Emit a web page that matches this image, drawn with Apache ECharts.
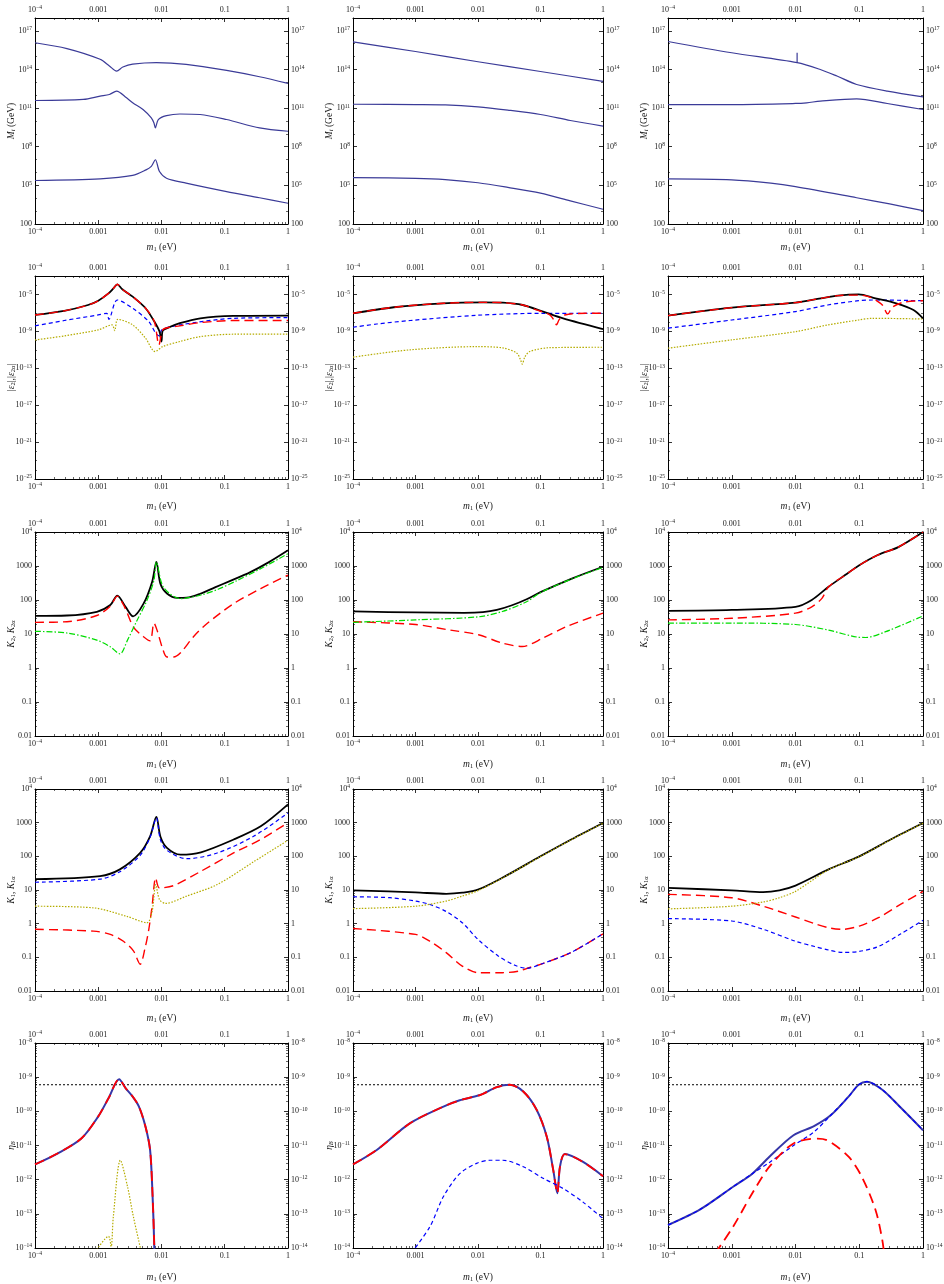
<!DOCTYPE html>
<html><head><meta charset="utf-8">
<script src="https://cdn.jsdelivr.net/npm/echarts@6/dist/echarts.min.js"></script>
<style>html,body{margin:0;padding:0;background:#fff}#c{width:944px;height:1284px}</style>
</head><body><div id="c"></div>
<script>
// ---------------- tick values / labels ----------------
const X_TICKS = [1e-4, 1e-3, 1e-2, 1e-1, 1];
const X_TICK_LABELS = ['10^-4', '0.001', '0.01', '0.1', '1'];
const Y1_TICKS = [1e2, 1e5, 1e8, 1e11, 1e14, 1e17];
const Y1_TICK_LABELS = ['100', '10^5', '10^8', '10^11', '10^14', '10^17'];
const Y2_TICKS = [1e-25, 1e-21, 1e-17, 1e-13, 1e-9, 1e-5];
const Y2_TICK_LABELS = ['10^-25', '10^-21', '10^-17', '10^-13', '10^-9', '10^-5'];
const Y3_TICKS = [0.01, 0.1, 1, 10, 100, 1000, 1e4];
const Y3_TICK_LABELS = ['0.01', '0.1', '1', '10', '100', '1000', '10^4'];
const Y5_TICKS = [1e-14, 1e-13, 1e-12, 1e-11, 1e-10, 1e-9, 1e-8];
const Y5_TICK_LABELS = ['10^-14', '10^-13', '10^-12', '10^-11', '10^-10', '10^-9', '10^-8'];

// ---------------- row 1 : M_i (GeV) ----------------
const c1_M3 = [[1e-4,1.2e16],[3.2e-4,4.2e15],[1.07e-3,6.2e14],[1.5e-3,1.9e14],[1.95e-3,7.6e13],[2.45e-3,1.55e14],[3.5e-3,2.6e14],[8.3e-3,3.4e14],[0.0245,2.5e14],[0.107,8.5e13],[0.355,2.75e13],[1,8.3e12]];
const c1_M2 = [[1e-4,3.9e11],[5.8e-4,4.7e11],[1.07e-3,8.5e11],[1.5e-3,1.15e12],[1.95e-3,2.1e12],[2.8e-3,6.3e11],[3.5e-3,2.6e11],[5.1e-3,7.8e10],[6.9e-3,1.74e10],[7.6e-3,7e9],[8.0e-3,2.9e9],[8.9e-3,1.3e10],[0.012,2.6e10],[0.0195,3.5e10],[0.0407,3.2e10],[0.107,1.3e10],[0.355,2.9e9],[1,1.6e9]];
const c1_M1 = [[1e-4,2.4e5],[1.07e-3,3.2e5],[3.5e-3,5.9e5],[5.7e-3,1.6e6],[6.9e-3,3e6],[8.0e-3,9.8e6],[9.3e-3,1.2e6],[0.012,3.6e5],[0.0245,1.5e5],[0.107,3.3e4],[0.355,1.1e4],[1,4.1e3]];
const c2_M3 = [[1e-4,1.4e16],[1e-3,2.5e15],[0.01,4e14],[0.1,7e13],[1,1.2e13]];
const c2_M2 = [[1e-4,2e11],[1e-3,1.9e11],[3e-3,1.8e11],[0.01,1.26e11],[0.03,7e10],[0.1,3.2e10],[0.3,1.1e10],[1,4e9]];
const c2_M1 = [[1e-4,4e5],[1e-3,3.5e5],[3e-3,2.8e5],[0.01,1.6e5],[0.03,7e4],[0.1,2.5e4],[0.3,6.3e3],[1,1.4e3]];
const c3_M3 = [[1e-4,1.5e16],[1e-3,2e15],[0.0106,3.4e14],[0.0245,1e14],[0.0447,3.1e13],[0.091,6.9e12],[0.275,2.1e12],[1,7.6e11]];
const c3_M3_spike = [[0.0106,3.4e14],[0.0106,2e15]];
const c3_M2 = [[1e-4,1.9e11],[1e-3,1.9e11],[0.01,2.3e11],[0.015,2.6e11],[0.0245,3.5e11],[0.091,5.2e11],[0.275,2.3e11],[1,7.8e10]];
const c3_M1 = [[1e-4,3.2e5],[1e-3,2.7e5],[4.1e-3,1.5e5],[0.01,8.1e4],[0.091,1.1e4],[0.3,3.6e3],[1,1.1e3]];

// ---------------- row 2 : |eps_2|, |eps_2alpha| ----------------
const e1_tot = [[1e-4,6e-8],[2.9e-4,1.66e-7],[6.9e-4,7.2e-7],[1e-3,2.1e-6],[1.45e-3,1.3e-5],[1.74e-3,4.6e-5],[2.0e-3,1.26e-4],[2.4e-3,3.6e-5],[3.5e-3,5.8e-6],[5.6e-3,3.2e-7],[7.7e-3,1.15e-8],[9.3e-3,9.5e-10],[0.01,7.9e-11],[0.0104,1.1e-9],[0.0118,2e-9],[0.0195,7.6e-9],[0.041,2.6e-8],[0.138,4.7e-8],[1,5.1e-8]];
const e1_red = [[1e-4,6e-8],[2.9e-4,1.66e-7],[6.9e-4,7.2e-7],[1e-3,2.1e-6],[1.45e-3,1.3e-5],[1.74e-3,4.6e-5],[2.0e-3,1.26e-4],[2.4e-3,3.6e-5],[3.5e-3,5.8e-6],[5.6e-3,3.2e-7],[7.7e-3,1.15e-8],[9.1e-3,3.4e-11],[0.0105,1.5e-9],[0.0135,2.8e-9],[0.0195,3.9e-9],[0.041,8.9e-9],[0.138,1.5e-8],[1,1.5e-8]];
const e1_blue = [[1e-4,3.9e-9],[2.9e-4,1.5e-8],[1e-3,6e-8],[1.36e-3,9e-8],[1.47e-3,2e-8],[2e-3,2.5e-6],[3.5e-3,3.2e-7],[6.3e-3,1.15e-8],[8.1e-3,6.3e-10],[9.3e-3,3.2e-10],[0.0101,1.45e-9],[0.0195,5e-9],[0.138,2.6e-8],[1,3.1e-8]];
const e1_olive = [[1e-4,1.17e-10],[2.9e-4,3.2e-10],[1e-3,1.45e-9],[1.65e-3,5e-9],[1.82e-3,1.2e-9],[2.04e-3,2e-8],[3.5e-3,5e-9],[5.6e-3,1.8e-10],[7.9e-3,6.5e-12],[0.0104,2.2e-11],[0.0195,8e-11],[0.041,2.7e-10],[0.138,4.9e-10],[1,4.9e-10]];
const e2_tot = [[1e-4,9.1e-8],[4.5e-4,4.1e-7],[2.8e-3,1.1e-6],[0.0122,1.4e-6],[0.025,1.3e-6],[0.052,7.2e-7],[0.11,1.4e-7],[0.23,2.6e-8],[1,1.8e-9]];
const e2_red = [[1e-4,9.1e-8],[4.5e-4,4.1e-7],[2.8e-3,1.1e-6],[0.0122,1.4e-6],[0.025,1.3e-6],[0.052,7.2e-7],[0.087,2.1e-7],[0.141,6e-8],[0.17,1.15e-8],[0.18,5e-9],[0.2,2e-8],[0.245,6e-8],[0.54,9.1e-8],[1,9.1e-8]];
const e2_blue = [[1e-4,2.8e-9],[2.4e-4,6.3e-9],[8.2e-4,1.5e-8],[9.5e-3,5.5e-8],[0.11,9.1e-8],[1,9.1e-8]];
const e2_olive = [[1e-4,1.6e-12],[8.2e-4,1e-11],[9.5e-3,2.2e-11],[0.025,1.6e-11],[0.042,4.3e-12],[0.048,8e-13],[0.051,2.8e-13],[0.056,1.6e-12],[0.067,6.5e-12],[0.141,1.7e-11],[1,1.9e-11]];
const e3_tot = [[1e-4,5.1e-8],[1e-3,3.7e-7],[0.01,1.3e-6],[0.025,3.8e-6],[0.046,7.4e-6],[0.098,1e-5],[0.18,3.8e-6],[0.38,1.1e-6],[0.71,2.1e-7],[1,2.6e-8]];
const e3_red = [[1e-4,5.1e-8],[1e-3,3.7e-7],[0.01,1.3e-6],[0.025,3.8e-6],[0.046,7.4e-6],[0.098,8.5e-6],[0.14,5.8e-6],[0.18,2.5e-6],[0.23,7.2e-7],[0.28,7.8e-8],[0.33,4.1e-7],[0.49,1.4e-6],[1,2.1e-6]];
const e3_blue = [[1e-4,2.2e-9],[1e-3,1.7e-8],[0.01,1.4e-7],[0.032,7.2e-7],[0.098,2.1e-6],[0.16,2.5e-6],[1,2.1e-6]];
const e3_olive = [[1e-4,1.5e-11],[1e-3,1.2e-10],[0.01,9.3e-10],[0.032,5e-9],[0.098,1.7e-8],[0.16,2.6e-8],[1,2.2e-8]];

// ---------------- row 3 : K_2, K_2alpha ----------------
const k2a_tot = [[1e-4,34],[3.2e-4,35],[9.5e-4,45],[1.55e-3,71],[2.0e-3,135],[2.7e-3,63],[3.55e-3,33],[5.2e-3,78],[7.1e-3,340],[8.3e-3,1320],[9.6e-3,300],[0.0122,155],[0.0178,115],[0.025,117],[0.04,150],[0.07,235],[0.12,360],[0.25,650],[0.5,1300],[1,2900]];
const k2a_red = [[1e-4,22],[3.2e-4,23],[9.5e-4,35],[1.55e-3,66],[2.0e-3,130],[2.6e-3,63],[3.6e-3,16],[5.2e-3,8.3],[6.6e-3,6.3],[7.6e-3,21],[8.5e-3,13],[0.0102,4.2],[0.0122,2.1],[0.0155,2.1],[0.02,2.8],[0.032,8.3],[0.052,20],[0.138,78],[0.37,215],[1,540]];
const k2a_green = [[1e-4,12],[3.2e-4,10.7],[9.5e-4,6.6],[1.55e-3,4.2],[2.2e-3,2.6],[2.9e-3,6.6],[4.1e-3,25],[5.9e-3,98],[7.6e-3,380],[8.3e-3,1320],[0.0107,240],[0.02,110],[0.042,140],[0.08,210],[0.15,360],[0.4,900],[1,2300]];
const k2b_tot = [[1e-4,46],[1e-3,43],[0.006,42],[0.012,44],[0.02,51],[0.035,70],[0.06,105],[0.1,170],[0.31,420],[1,950]];
const k2b_green = [[1e-4,22],[1e-3,26],[0.0102,32],[0.0245,46],[0.06,89],[0.1,165],[0.31,410],[1,910]];
const k2b_red = [[1e-4,23],[1e-3,19],[3.6e-3,13],[0.0102,9.5],[0.0245,5.4],[0.051,4.3],[0.11,7.6],[0.26,16.6],[1,41]];
const k2c_tot = [[1e-4,48],[1e-3,51],[0.01,63],[0.018,100],[0.033,245],[0.06,540],[0.1,1050],[0.195,2100],[0.41,3600],[1,10000]];
const k2c_red = [[1e-4,26],[1e-3,29],[0.01,41],[0.018,63],[0.026,112],[0.033,245],[0.06,540],[0.1,1050],[0.195,2100],[0.41,3600],[1,10000]];
const k2c_green = [[1e-4,21],[1e-3,21],[0.01,19],[0.033,13],[0.093,8.1],[0.126,7.9],[0.26,11.7],[1,34]];

// ---------------- row 4 : K_1, K_1alpha ----------------
const k1a_tot = [[1e-4,21],[1.07e-3,26],[2.2e-3,41],[4.6e-3,126],[6.6e-3,390],[8.3e-3,1480],[9.6e-3,390],[0.0122,178],[0.02,112],[0.042,132],[0.138,316],[0.37,780],[1,3500]];
const k1a_blue = [[1e-4,17],[1.07e-3,21],[2.2e-3,35],[4.6e-3,107],[6.6e-3,370],[8.3e-3,1380],[9.6e-3,316],[0.0122,150],[0.025,85],[0.076,126],[0.29,400],[1,1950]];
const k1a_red = [[1e-4,0.68],[8.4e-4,0.6],[1.55e-3,0.48],[2.5e-3,0.3],[3.6e-3,0.155],[4.6e-3,0.062],[5.5e-3,0.19],[6.3e-3,0.68],[7.1e-3,3.3],[8.1e-3,23],[9.3e-3,11.5],[0.0155,13.5],[0.042,36],[0.138,126],[0.37,316],[1,1000]];
const k1a_olive = [[1e-4,3.3],[8.4e-4,2.95],[2.8e-3,1.66],[5.9e-3,1.07],[7.1e-3,2.3],[8.1e-3,14.5],[9.3e-3,5.2],[0.0115,4],[0.025,6.6],[0.076,14.5],[0.29,70],[1,300]];
const k1b_tot = [[1e-4,9.8],[1e-3,8.5],[3.1e-3,7.7],[5.6e-3,8.3],[0.01,10.2],[0.0245,23],[0.1,100],[0.31,316],[1,980]];
const k1b_olive = [[1e-4,2.8],[1e-3,3.3],[3.1e-3,4.7],[5.6e-3,6.6],[0.01,9.6],[0.0245,22.5],[0.1,98],[0.31,310],[1,960]];
const k1b_blue = [[1e-4,6.3],[3.9e-4,5.9],[1e-3,4.7],[1.7e-3,3.7],[3.1e-3,2.3],[5.6e-3,1.07],[0.01,0.34],[0.021,0.11],[0.039,0.058],[0.06,0.047],[0.1,0.062],[0.31,0.14],[1,0.5]];
const k1b_red = [[1e-4,0.72],[1e-3,0.48],[1.7e-3,0.3],[3.1e-3,0.138],[5.6e-3,0.055],[0.01,0.035],[0.0245,0.035],[0.045,0.039],[0.065,0.049],[0.1,0.062],[0.31,0.14],[1,0.5]];
const k1c_tot = [[1e-4,11.5],[1e-3,9.8],[3.1e-3,8.7],[5.6e-3,9.8],[0.01,13.5],[0.033,41],[0.1,100],[0.31,316],[1,980]];
const k1c_olive = [[1e-4,2.75],[1e-3,3.3],[3.1e-3,4.4],[5.6e-3,5.9],[0.01,9.1],[0.033,40],[0.1,98],[0.31,310],[1,960]];
const k1c_red = [[1e-4,7.4],[1e-3,5.9],[3.1e-3,3.3],[0.01,1.58],[0.02,1.0],[0.035,0.74],[0.055,0.68],[0.1,0.85],[0.2,1.5],[0.45,3.8],[1,9.1]];
const k1c_blue = [[1e-4,1.41],[1e-3,1.2],[3.1e-3,0.68],[0.01,0.3],[0.02,0.21],[0.033,0.165],[0.055,0.14],[0.1,0.15],[0.2,0.21],[0.45,0.5],[1,1.26]];

// ---------------- row 5 : eta_B ----------------
const etaObs = 6e-10;
const eta1_tot = [[1e-4,2.8e-12],[2.3e-4,5.9e-12],[5.4e-4,1.6e-11],[1e-3,7.1e-11],[1.45e-3,2.4e-10],[2.14e-3,8.7e-10],[2.7e-3,4.8e-10],[3.45e-3,2.8e-10],[4.4e-3,1.38e-10],[5.6e-3,3.5e-11],[6.6e-3,7.4e-12],[7.2e-3,4e-13],[7.7e-3,1e-14],[7.8e-3,1e-15]];
const eta1_flav = eta1_tot;
const eta1_olive = [[9.5e-4,9e-15],[1.45e-3,2.2e-14],[1.6e-3,1.1e-14],[1.73e-3,8.1e-14],[2.24e-3,3.7e-12],[2.9e-3,6.3e-13],[3.6e-3,8.1e-14],[4.7e-3,9e-15]];
const eta2_tot = [[1e-4,2.8e-12],[2.4e-4,7.4e-12],[8.2e-4,4.5e-11],[2.8e-3,1.38e-10],[5.1e-3,2.1e-10],[0.0108,3e-10],[0.02,5.1e-10],[0.032,6e-10],[0.053,3.8e-10],[0.087,1.1e-10],[0.126,1.8e-11],[0.16,1.9e-12],[0.186,4e-13],[0.205,2.4e-12],[0.245,5.6e-12],[0.48,3.3e-12],[1,1.26e-12]];
const eta2_flav = eta2_tot;
const eta2_blue = [[8.5e-4,7e-15],[1.7e-3,4.2e-14],[2.8e-3,3.2e-13],[5.1e-3,1.5e-12],[9.5e-3,3e-12],[0.0155,3.7e-12],[0.025,3.7e-12],[0.053,2.4e-12],[0.11,1.1e-12],[0.23,5.5e-13],[0.48,2.2e-13],[1,7.2e-14]];
const eta3_tot = [[1e-4,4.7e-14],[3.2e-4,1.35e-13],[1.05e-3,6.2e-13],[2.1e-3,1.5e-12],[3.9e-3,4.7e-12],[9.3e-3,2e-11],[0.0195,3.7e-11],[0.036,7.8e-11],[0.068,2.7e-10],[0.098,6e-10],[0.132,7.4e-10],[0.23,4.3e-10],[0.43,1.38e-10],[1,2.8e-11]];
const eta3_blue = [[1e-4,4.7e-14],[3.2e-4,1.35e-13],[1.05e-3,6.2e-13],[2.1e-3,1.5e-12],[3.9e-3,3.2e-12],[9.3e-3,1e-11],[0.0195,2.5e-11],[0.036,7.8e-11],[0.068,2.7e-10],[0.098,6e-10],[0.132,7.4e-10],[0.23,4.3e-10],[0.43,1.38e-10],[1,2.8e-11]];
const eta3_red = [[5.5e-4,7e-15],[1.05e-3,4.2e-14],[2.1e-3,4e-13],[3.9e-3,2.4e-12],[9.3e-3,1.15e-11],[0.022,1.6e-11],[0.032,1.4e-11],[0.068,4.7e-12],[0.11,1.2e-12],[0.18,1.3e-13],[0.23,1.7e-14],[0.25,5e-15]];

// ---------------- styles / layout ----------------
const FONT = '"Liberation Serif", "Times New Roman", serif';
const ST = {
  M: {color: '#3b3b98', width: 1.2, type: 'solid'},
  black: {color: '#000000', width: 1.8, type: 'solid'},
  red: {color: '#ff0000', width: 1.4, type: [9, 5]},
  blue: {color: '#0000ff', width: 1.2, type: [4, 3]},
  olive: {color: '#b5ac00', width: 1.2, type: [1.5, 1.5]},
  green: {color: '#00dd00', width: 1.2, type: [6, 2, 1.5, 2]},
  etaSolid: {color: '#3636a8', width: 2, type: 'solid'},
  etaRed: {color: '#ff0000', width: 1.8, type: [10, 6]},
  obs: {color: '#000000', width: 1, type: [2, 2]}
};
const GRID_LEFT = [35, 353, 668], GRID_W = [253, 250, 255];
const GRID_TOP = [18, 276, 532, 789, 1043], GRID_H = [206, 203, 204, 202, 205];
const X_NAME_GAP = [17, 21, 22, 21, 23];

const ROWS = [
  {min: 1e2, max: 1e18, ticks: Y1_TICKS, labels: Y1_TICK_LABELS, name: '{i|M}{subi|i}{n| (GeV)}'},
  {min: 1e-25, max: 1e-3, ticks: Y2_TICKS, labels: Y2_TICK_LABELS, name: '{n||}{i|ε}{sub|2}{n||,|}{i|ε}{sub|2α}{n||}'},
  {min: 0.01, max: 1e4, ticks: Y3_TICKS, labels: Y3_TICK_LABELS, name: '{i|K}{sub|2}{n|, }{i|K}{sub|2α}'},
  {min: 0.01, max: 1e4, ticks: Y3_TICKS, labels: Y3_TICK_LABELS, name: '{i|K}{sub|1}{n|, }{i|K}{sub|1α}'},
  {min: 1e-14, max: 1e-8, ticks: Y5_TICKS, labels: Y5_TICK_LABELS, name: '{i|η}{subi|B}'}
];

function minorDecades(e0, e1, skip) { const r = []; for (let e = e0; e <= e1; e++) if (skip.indexOf(e) < 0) r.push(Math.pow(10, e)); return r; }
function minorSub(e0, e1) { const r = []; for (let e = e0; e <= e1; e++) for (let k = 2; k <= 9; k++) r.push(k * Math.pow(10, e)); return r; }
const X_MINOR = minorSub(-4, -1);
const Y_MINOR = [
  minorDecades(3, 17, [5, 8, 11, 14, 17]),
  minorDecades(-24, -4, [-21, -17, -13, -9, -5]),
  minorSub(-2, 3), minorSub(-2, 3), minorSub(-14, -9)
];

const PANELS = [
  [[c1_M3, 'M'], [c1_M2, 'M'], [c1_M1, 'M']],
  [[c2_M3, 'M'], [c2_M2, 'M'], [c2_M1, 'M']],
  [[c3_M3, 'M'], [c3_M3_spike, 'M', false], [c3_M2, 'M'], [c3_M1, 'M']],
  [[e1_olive, 'olive'], [e1_blue, 'blue'], [e1_tot, 'black'], [e1_red, 'red']],
  [[e2_olive, 'olive'], [e2_blue, 'blue'], [e2_tot, 'black'], [e2_red, 'red']],
  [[e3_olive, 'olive'], [e3_blue, 'blue'], [e3_tot, 'black'], [e3_red, 'red']],
  [[k2a_tot, 'black'], [k2a_red, 'red'], [k2a_green, 'green']],
  [[k2b_tot, 'black'], [k2b_red, 'red'], [k2b_green, 'green']],
  [[k2c_tot, 'black'], [k2c_red, 'red'], [k2c_green, 'green']],
  [[k1a_tot, 'black'], [k1a_red, 'red'], [k1a_olive, 'olive'], [k1a_blue, 'blue']],
  [[k1b_tot, 'black'], [k1b_red, 'red'], [k1b_blue, 'blue'], [k1b_olive, 'olive']],
  [[k1c_tot, 'black'], [k1c_red, 'red'], [k1c_blue, 'blue'], [k1c_olive, 'olive']],
  [[[[1e-4, etaObs], [1, etaObs]], 'obs', false], [eta1_tot, 'etaSolid'], [eta1_flav, 'etaRed'], [eta1_olive, 'olive']],
  [[[[1e-4, etaObs], [1, etaObs]], 'obs', false], [eta2_tot, 'etaSolid'], [eta2_flav, 'etaRed'], [eta2_blue, 'blue']],
  [[[[1e-4, etaObs], [1, etaObs]], 'obs', false], [eta3_tot, 'etaSolid'], [eta3_blue, 'blue'], [eta3_red, 'etaRed']]
];

// ---------------- option building ----------------
const LABEL_COLOR = '#1a1a1a';
const LABEL_RICH = {
  b: {fontFamily: FONT, fontSize: 8, lineHeight: 10, color: LABEL_COLOR},
  s: {fontFamily: FONT, fontSize: 5.5, lineHeight: 6, verticalAlign: 'top', color: LABEL_COLOR}
};
const NAME_RICH = {
  i: {fontFamily: FONT, fontStyle: 'italic', fontSize: 9.5, lineHeight: 12, color: LABEL_COLOR},
  n: {fontFamily: FONT, fontSize: 9.5, lineHeight: 12, color: LABEL_COLOR},
  sub: {fontFamily: FONT, fontSize: 6.5, lineHeight: 7, verticalAlign: 'bottom', color: LABEL_COLOR},
  subi: {fontFamily: FONT, fontStyle: 'italic', fontSize: 6.5, lineHeight: 7, verticalAlign: 'bottom', color: LABEL_COLOR}
};
function richLabel(s) {
  const i = s.indexOf('^');
  if (i < 0) return '{b|' + s + '}';
  return '{b|' + s.slice(0, i) + '}{s|' + s.slice(i + 1).replace('-', '−') + '}';
}
function makeFormatter(ticks, labels) {
  return function (v) {
    const lv = Math.log10(v);
    for (let k = 0; k < ticks.length; k++) if (Math.abs(Math.log10(ticks[k]) - lv) < 1e-6) return richLabel(labels[k]);
    return '';
  };
}
function axisBase(g, min, max, pos) {
  return {gridIndex: g, type: 'log', logBase: 10, min: min, max: max, position: pos,
    splitLine: {show: false}, minorTick: {show: false}, minorSplitLine: {show: false},
    axisPointer: {show: false}, silent: true};
}
function majorAxis(g, min, max, pos, ticks, labels) {
  const a = axisBase(g, min, max, pos);
  a.axisLine = {show: true, onZero: false, lineStyle: {color: '#000', width: 1}};
  a.axisTick = {show: true, inside: true, length: 4, customValues: ticks, lineStyle: {color: '#000', width: 0.8}};
  a.axisLabel = {show: true, customValues: ticks, formatter: makeFormatter(ticks, labels), rich: LABEL_RICH,
    margin: 3, hideOverlap: false, showMinLabel: true, showMaxLabel: true};
  return a;
}
function minorAxis(g, min, max, pos, ticks) {
  const a = axisBase(g, min, max, pos);
  a.axisLine = {show: false, onZero: false};
  a.axisTick = {show: true, inside: true, length: 2, customValues: ticks, lineStyle: {color: '#000', width: 0.6}};
  a.axisLabel = {show: false};
  return a;
}

const grids = [], xAxes = [], yAxes = [], series = [];
for (let g = 0; g < 15; g++) {
  const col = g % 3, rowIdx = Math.floor(g / 3);
  const R = ROWS[rowIdx];
  grids.push({left: GRID_LEFT[col], top: GRID_TOP[rowIdx], width: GRID_W[col], height: GRID_H[rowIdx],
    containLabel: false, outerBoundsMode: 'none'});
  const xb = majorAxis(g, 1e-4, 1, 'bottom', X_TICKS, X_TICK_LABELS);
  xb.name = '{i|m}{sub|1}{n| (eV)}';
  xb.nameLocation = 'middle';
  xb.nameGap = X_NAME_GAP[rowIdx];
  xb.nameMoveOverlap = false;
  xb.nameTextStyle = {rich: NAME_RICH};
  xAxes.push(xb, majorAxis(g, 1e-4, 1, 'top', X_TICKS, X_TICK_LABELS),
    minorAxis(g, 1e-4, 1, 'bottom', X_MINOR), minorAxis(g, 1e-4, 1, 'top', X_MINOR));
  const yl = majorAxis(g, R.min, R.max, 'left', R.ticks, R.labels);
  yl.name = R.name;
  yl.nameLocation = 'middle';
  yl.nameGap = 18;
  yl.nameMoveOverlap = false;
  yl.nameTextStyle = {rich: NAME_RICH};
  yAxes.push(yl, majorAxis(g, R.min, R.max, 'right', R.ticks, R.labels),
    minorAxis(g, R.min, R.max, 'left', Y_MINOR[rowIdx]), minorAxis(g, R.min, R.max, 'right', Y_MINOR[rowIdx]));
  PANELS[g].forEach(function (p) {
    const st = ST[p[1]];
    series.push({type: 'line', xAxisIndex: 4 * g, yAxisIndex: 4 * g, data: p[0],
      showSymbol: false, symbol: 'none', smooth: p[2] === false ? false : 0.3, clip: true,
      silent: true, animation: false,
      lineStyle: {color: st.color, width: st.width, type: st.type, cap: 'butt', join: 'round'}});
  });
}

const chart = echarts.init(document.getElementById('c'), null, {renderer: 'canvas'});
chart.setOption({animation: false, backgroundColor: '#ffffff', textStyle: {fontFamily: FONT},
  grid: grids, xAxis: xAxes, yAxis: yAxes, series: series});
</script></body></html>
